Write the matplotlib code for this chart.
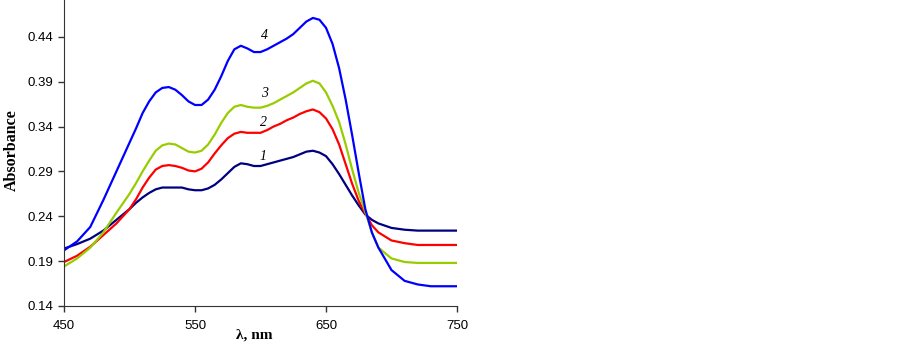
import matplotlib
matplotlib.use('Agg')
import matplotlib.pyplot as plt

wavelength = [450, 460, 470, 480, 490,
              500, 505, 510, 515, 520, 525, 530, 535, 540, 545,
              550, 555, 560, 565, 570, 575, 580, 585, 590, 595,
              600, 605, 610, 615, 620, 625, 630, 635, 640, 645,
              650, 655, 660, 665, 670, 675, 680, 685, 690,
              700, 710, 720, 730, 740, 750]

abs_1 = [0.204, 0.209, 0.215, 0.224, 0.236,
         0.248, 0.255, 0.261, 0.266, 0.270, 0.272, 0.272, 0.272, 0.272, 0.270,
         0.269, 0.269, 0.271, 0.275, 0.281, 0.288, 0.295, 0.299, 0.298, 0.296,
         0.296, 0.298, 0.300, 0.302, 0.304, 0.306, 0.309, 0.312, 0.313, 0.311,
         0.307, 0.298, 0.287, 0.275, 0.263, 0.252, 0.242, 0.236, 0.232,
         0.227, 0.225, 0.224, 0.224, 0.224, 0.224]
abs_2 = [0.189, 0.196, 0.206, 0.219, 0.232,
         0.248, 0.259, 0.272, 0.283, 0.292, 0.296, 0.297, 0.296, 0.294, 0.291,
         0.290, 0.293, 0.300, 0.310, 0.319, 0.327, 0.332, 0.334, 0.333, 0.333,
         0.333, 0.336, 0.340, 0.343, 0.347, 0.350, 0.354, 0.357, 0.359, 0.356,
         0.349, 0.337, 0.320, 0.298, 0.276, 0.257, 0.243, 0.230, 0.222,
         0.213, 0.210, 0.208, 0.208, 0.208, 0.208]
abs_3 = [0.184, 0.193, 0.205, 0.222, 0.244,
         0.265, 0.277, 0.290, 0.302, 0.313, 0.319, 0.321, 0.320, 0.316, 0.312,
         0.311, 0.313, 0.320, 0.331, 0.344, 0.355, 0.362, 0.364, 0.362, 0.361,
         0.361, 0.363, 0.366, 0.370, 0.374, 0.378, 0.383, 0.388, 0.391, 0.388,
         0.378, 0.363, 0.345, 0.320, 0.292, 0.266, 0.245, 0.222, 0.205,
         0.193, 0.189, 0.188, 0.188, 0.188, 0.188]
abs_4 = [0.202, 0.212, 0.228, 0.258, 0.290,
         0.322, 0.338, 0.355, 0.368, 0.378, 0.383, 0.384, 0.381, 0.375, 0.368,
         0.364, 0.364, 0.370, 0.381, 0.396, 0.413, 0.426, 0.430, 0.427, 0.423,
         0.423, 0.426, 0.430, 0.434, 0.438, 0.443, 0.450, 0.457, 0.461, 0.459,
         0.450, 0.432, 0.405, 0.370, 0.330, 0.288, 0.248, 0.222, 0.205,
         0.180, 0.168, 0.164, 0.162, 0.162, 0.162]

series = [abs_1, abs_2, abs_3, abs_4]
colors = ['#000080', '#ff0000', '#99cc00', '#0000ff']
labels = ['1', '2', '3', '4']
label_pos = [(602, 0.307), (602, 0.345), (603, 0.377), (603, 0.441)]

fig = plt.figure(figsize=(9.03, 3.44), dpi=100)
ax = fig.add_axes([0.0709, 0.1105, 0.4352, 0.8895])

for ys, c in zip(series, colors):
    ax.plot(wavelength, ys, color=c, lw=1.6)

for lab, (lx, ly) in zip(labels, label_pos):
    ax.text(lx, ly, lab, family='Liberation Serif', style='italic', fontsize=10,
            ha='center', va='center')

ax.set_xlim(450, 750)
ax.set_ylim(0.14, 0.481)
ax.set_xticks([450, 550, 650, 750])
ax.set_yticks([0.14, 0.19, 0.24, 0.29, 0.34, 0.39, 0.44])
ax.set_yticklabels(['0.14', '0.19', '0.24', '0.29', '0.34', '0.39', '0.44'])
for lbl in ax.get_xticklabels() + ax.get_yticklabels():
    lbl.set_family('Liberation Sans')
    lbl.set_fontsize(9.5)
ax.tick_params(direction='out', length=4, width=1, color='#333333')
ax.tick_params(axis='y', pad=4)
ax.tick_params(axis='x', pad=6)
ax.spines['top'].set_visible(False)
ax.spines['right'].set_visible(False)
ax.spines['left'].set_color('#333333')
ax.spines['bottom'].set_color('#333333')

ax.set_xlabel('λ, nm', family='Liberation Serif', fontweight='bold', fontsize=11, va='center')
ax.xaxis.set_label_coords(0.485, -0.095)
ax.set_ylabel('Absorbance', family='Liberation Serif', fontweight='bold', fontsize=11.5, va='center')
ax.yaxis.set_label_coords(-0.132, 0.51)

fig.savefig('out.png', dpi=100)
